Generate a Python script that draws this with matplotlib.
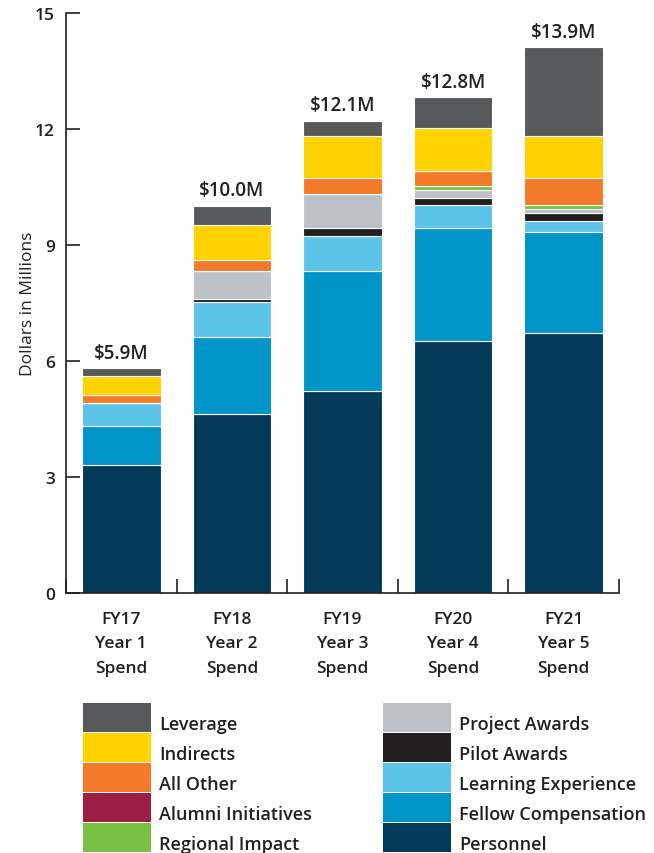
#!/usr/bin/env python
""" Stacked bar chart of yearly spend by category, FY17 - FY21. """

import matplotlib
matplotlib.use("Agg")
import matplotlib.pyplot as plt
from matplotlib.patches import Rectangle

# Categories along the x axis
years = ["FY17\nYear 1\nSpend", "FY18\nYear 2\nSpend", "FY19\nYear 3\nSpend",
         "FY20\nYear 4\nSpend", "FY21\nYear 5\nSpend"]
totals = ["$5.9M", "$10.0M", "$12.1M", "$12.8M", "$13.9M"]

# Series values in millions, listed from the bottom of the stack up
personnel = [3.32, 4.64, 5.23, 6.52, 6.72]
fellow_compensation = [1.01, 1.98, 3.10, 2.91, 2.61]
learning_experience = [0.59, 0.90, 0.89, 0.60, 0.30]
pilot_awards = [0.00, 0.09, 0.21, 0.19, 0.19]
project_awards = [0.00, 0.72, 0.89, 0.21, 0.11]
regional_impact = [0.00, 0.00, 0.00, 0.10, 0.10]
alumni_initiatives = [0.00, 0.00, 0.00, 0.00, 0.00]
all_other = [0.21, 0.29, 0.40, 0.39, 0.69]
indirects = [0.49, 0.90, 1.10, 1.11, 1.11]
leverage = [0.19, 0.50, 0.39, 0.79, 2.28]

series_names = ["Personnel", "Fellow Compensation", "Learning Experience", "Pilot Awards",
                "Project Awards", "Regional Impact", "Alumni Initiatives", "All Other",
                "Indirects", "Leverage"]
series_values = [personnel, fellow_compensation, learning_experience, pilot_awards,
                 project_awards, regional_impact, alumni_initiatives, all_other,
                 indirects, leverage]
series_colors = ["#033a5a", "#0095c8", "#5bc4e8", "#231f20", "#bcc2c8",
                 "#7ac143", "#9b1f44", "#f27a28", "#ffd200", "#58595b"]

y_ticks = [0, 3, 6, 9, 12, 15]

TEXT = "#231f20"
W, H = 654, 854

plt.rcParams["font.family"] = ["Open Sans", "DejaVu Sans"]
plt.rcParams["font.weight"] = "semibold"


def draw_bars(ax):
    """ Draws the stacked bars and the total labels on top. """
    x = list(range(len(years)))
    bottom = [0.0] * len(years)
    for values, color in zip(series_values, series_colors):
        ax.bar(x, values, bottom=bottom, width=0.71, color=color,
               edgecolor="white", linewidth=0.8, zorder=2)
        bottom = [b + v for b, v in zip(bottom, values)]

    # Total labels above each bar
    for xi, top, label in zip(x, bottom, totals):
        ax.annotate(label, (xi, top), xytext=(0, 4), textcoords="offset points",
                    ha="center", va="bottom", fontsize=13.5, color=TEXT)


def style_axes(ax):
    """ Spines, ticks and labels. """
    n = len(years)
    ax.set_xlim(-0.5, n - 0.5)
    ax.set_ylim(0, 15)

    for side in ["top", "right"]:
        ax.spines[side].set_visible(False)
    for side in ["left", "bottom"]:
        ax.spines[side].set_color(TEXT)
        ax.spines[side].set_linewidth(1.2)

    ax.set_yticks(y_ticks)
    ax.tick_params(axis="y", direction="in", length=10, width=1.2, color=TEXT,
                   labelsize=12.5, labelcolor=TEXT, pad=8)

    ax.set_xticks(range(n))
    ax.set_xticklabels(years, fontsize=12.5, color=TEXT, linespacing=1.7)
    ax.tick_params(axis="x", which="major", length=0, pad=13)
    ax.set_xticks([i - 0.5 for i in range(n + 1)], minor=True)
    ax.tick_params(axis="x", which="minor", direction="in", length=10, width=1.2, color=TEXT)

    ax.set_ylabel("Dollars in Millions", fontsize=12.5, color=TEXT, labelpad=-1)


def draw_legend(fig):
    """ Two-column legend with square swatches, laid out in pixel units. """
    lax = fig.add_axes([0, 0, 1, 1])
    lax.set_xlim(0, W)
    lax.set_ylim(H, 0)
    lax.axis("off")

    names = series_names[::-1]
    colors = series_colors[::-1]
    col_x = [83, 383]
    top, step, box_h, box_w = 704, 30.0, 28.8, 68
    per_col = 5

    for i, (name, color) in enumerate(zip(names, colors)):
        col, row = divmod(i, per_col)
        y0 = top + row * step
        lax.add_patch(Rectangle((col_x[col], y0), box_w, box_h, facecolor=color,
                                edgecolor="none"))
        lax.text(col_x[col] + box_w + 8, y0 + box_h / 2 + 7, name, fontsize=13,
                 color=TEXT, ha="left", va="center")


def main():
    fig = plt.figure(figsize=(W / 100, H / 100), dpi=100)
    ax = fig.add_axes([66 / W, 260 / H, (619 - 66) / W, 580 / H])
    draw_bars(ax)
    style_axes(ax)
    draw_legend(fig)
    fig.savefig("out.png", dpi=100)


if __name__ == "__main__":
    main()
